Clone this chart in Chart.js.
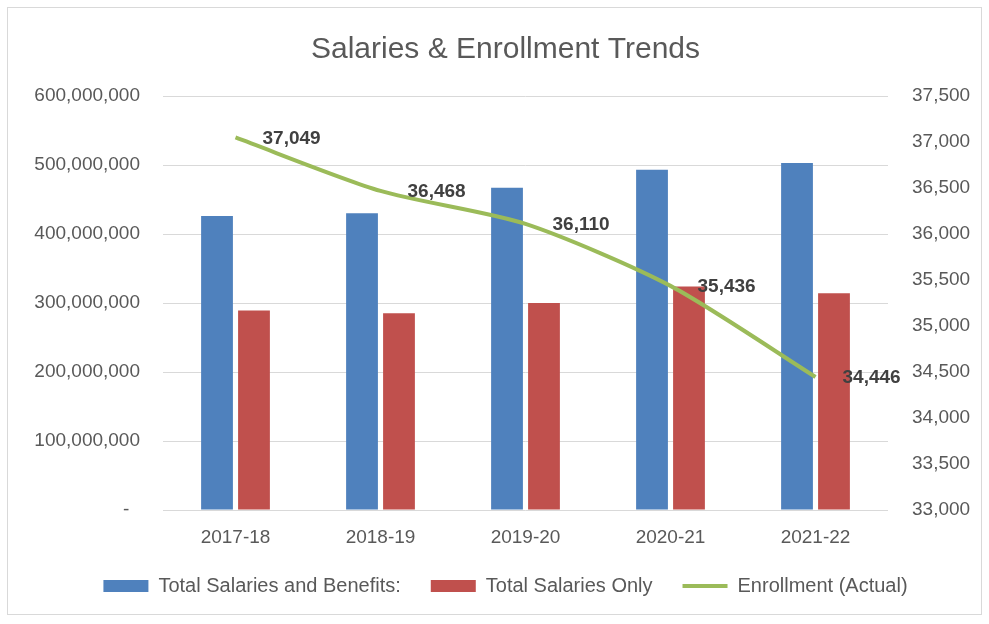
<!DOCTYPE html>
<html>
<head>
<meta charset="utf-8">
<script src="https://cdn.jsdelivr.net/npm/chart.js@4.4.0/dist/chart.umd.min.js"></script>
<style>
  html, body { margin: 0; padding: 0; background: #fff; }
  #wrap { width: 989px; height: 624px; position: relative; }
</style>
</head>
<body>
<div id="wrap"><canvas id="c" width="989" height="624"></canvas></div>
<script>
const categories = ['2017-18', '2018-19', '2019-20', '2020-21', '2021-22'];
const salariesAndBenefits = [426000000, 430000000, 467000000, 493000000, 503000000];
const salariesOnly = [289000000, 285000000, 300000000, 324000000, 314000000];
const enrollment = [37049, 36468, 36110, 35436, 34446];

const FONT = "'Liberation Sans', Arial, sans-serif";
const GREY = '#595959';

const frame = {
  id: 'frame',
  beforeDraw(chart) {
    const ctx = chart.ctx;
    ctx.save();
    ctx.fillStyle = '#ffffff';
    ctx.fillRect(0, 0, chart.width, chart.height);
    ctx.strokeStyle = '#d9d9d9';
    ctx.lineWidth = 1;
    ctx.strokeRect(7.5, 7.5, 974, 607);
    ctx.restore();
  }
};

const lineLabels = {
  id: 'lineLabels',
  afterDatasetsDraw(chart) {
    const meta = chart.getDatasetMeta(2);
    const ctx = chart.ctx;
    ctx.save();
    ctx.font = 'bold 19px ' + FONT;
    ctx.fillStyle = '#404040';
    ctx.textAlign = 'left';
    ctx.textBaseline = 'middle';
    meta.data.forEach((pt, i) => {
      ctx.fillText(enrollment[i].toLocaleString('en-US'), pt.x + 27, pt.y + 1);
    });
    ctx.restore();
  }
};

new Chart(document.getElementById('c'), {
  data: {
    labels: categories,
    datasets: [
      {
        type: 'bar',
        label: 'Total Salaries and Benefits:',
        data: salariesAndBenefits,
        backgroundColor: '#4F81BD',
        yAxisID: 'y',
        order: 1,
        categoryPercentage: 0.51,
        barPercentage: 0.86
      },
      {
        type: 'bar',
        label: 'Total Salaries Only',
        data: salariesOnly,
        backgroundColor: '#C0504D',
        yAxisID: 'y',
        order: 1,
        categoryPercentage: 0.51,
        barPercentage: 0.86
      },
      {
        type: 'line',
        label: 'Enrollment (Actual)',
        data: enrollment,
        borderColor: '#9BBB59',
        backgroundColor: '#9BBB59',
        borderWidth: 4,
        pointRadius: 0,
        tension: 0.25,
        yAxisID: 'y1',
        order: 0
      }
    ]
  },
  options: {
    responsive: false,
    animation: false,
    devicePixelRatio: 1,
    layout: { padding: { left: 22, right: 0, top: 10, bottom: 18 } },
    plugins: {
      title: {
        display: true,
        text: 'Salaries & Enrollment Trends',
        color: GREY,
        font: { family: FONT, size: 30, weight: 'normal' },
        padding: { top: 22, bottom: 28 }
      },
      legend: {
        position: 'bottom',
        labels: {
          color: GREY,
          font: { family: FONT, size: 20 },
          usePointStyle: true,
          pointStyleWidth: 45,
          boxHeight: 12,
          padding: 30,
          sort: (a, b) => a.datasetIndex - b.datasetIndex,
          generateLabels(chart) {
            const items = Chart.defaults.plugins.legend.labels.generateLabels(chart);
            return items.map(it => {
              const ds = chart.data.datasets[it.datasetIndex];
              if (ds.type === 'line') {
                it.pointStyle = 'line';
                it.strokeStyle = ds.borderColor;
                it.lineWidth = 4;
              } else {
                it.pointStyle = 'rect';
                it.lineWidth = 0;
                it.fillStyle = ds.backgroundColor;
              }
              return it;
            });
          }
        }
      },
      tooltip: { enabled: false }
    },
    scales: {
      x: {
        grid: { display: false },
        border: { display: false },
        ticks: { color: GREY, font: { family: FONT, size: 19 }, padding: 8 },
        afterFit(scale) { scale.height = 36; }
      },
      y: {
        position: 'left',
        min: 0,
        max: 600000000,
        grid: { color: '#d9d9d9', drawTicks: false, lineWidth: 1 },
        border: { display: false },
        ticks: {
          stepSize: 100000000,
          padding: 23,
          color: GREY,
          font: { family: FONT, size: 19 },
          callback: v => v === 0 ? '-  ' : v.toLocaleString('en-US')
        },
        afterFit(scale) { scale.width = 141; }
      },
      y1: {
        position: 'right',
        min: 33000,
        max: 37500,
        grid: { drawOnChartArea: false, drawTicks: false },
        border: { display: false },
        ticks: {
          stepSize: 500,
          padding: 24,
          color: GREY,
          font: { family: FONT, size: 19 },
          callback: v => v.toLocaleString('en-US')
        },
        afterFit(scale) { scale.width = 101; }
      }
    }
  },
  plugins: [frame, lineLabels]
});
</script>
</body>
</html>
